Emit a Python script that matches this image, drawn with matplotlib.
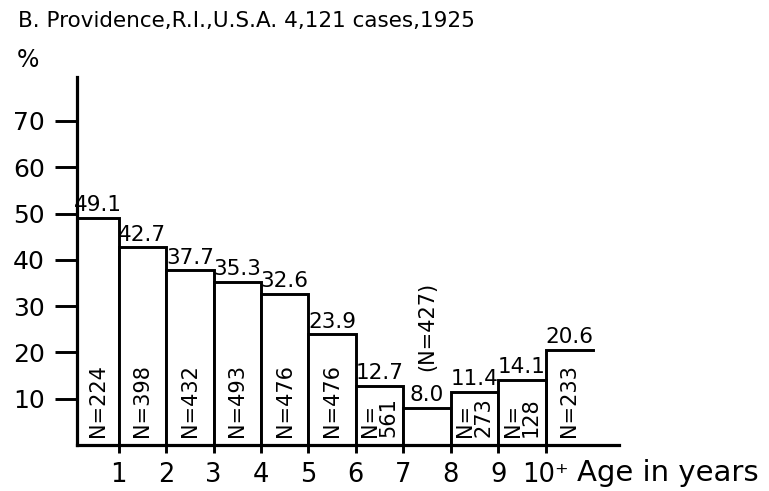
import matplotlib
matplotlib.use("Agg")
import matplotlib.pyplot as plt

# ---- data ----
age_edges = [0, 1, 2, 3, 4, 5, 6, 7, 8, 9, 10, 11]
percent = [49.1, 42.7, 37.7, 35.3, 32.6, 23.9, 12.7, 8.0, 11.4, 14.1, 20.6]
value_labels = ["49.1", "42.7", "37.7", "35.3", "32.6", "23.9", "12.7", "8.0", "11.4", "14.1", "20.6"]
n_labels = ["N=224", "N=398", "N=432", "N=493", "N=476", "N=476", "N=\n561", None, "N=\n273", "N=\n128", "N=233"]
above_labels = {7: "(N=427)"}
x_ticks = [1, 2, 3, 4, 5, 6, 7, 8, 9, 10]
x_ticklabels = ["1", "2", "3", "4", "5", "6", "7", "8", "9", "10\u207a"]
y_ticks = [10, 20, 30, 40, 50, 60, 70]
title = "B. Providence,R.I.,U.S.A. 4,121 cases,1925"

plt.rcParams['font.family'] = ['DejaVu Sans']

W, H = 769, 491
fig = plt.figure(figsize=(W / 100, H / 100), dpi=100)
ax = fig.add_axes([77 / W, 1 - 445 / H, (619 - 77) / W, (445 - 77) / H])
x_left = 0.12
ax.set_xlim(x_left, 11.55)
ax.set_ylim(0, 79.5)

lw = 2.1
n_full = len(percent) - 1
lefts = age_edges[:n_full]
widths = [age_edges[i + 1] - age_edges[i] for i in range(n_full)]
ax.bar(lefts, percent[:n_full], width=widths, align='edge',
       facecolor='white', edgecolor='black', linewidth=lw, zorder=2)
# open last class (10+): left edge and top only
x10, x11, v10 = age_edges[-2], age_edges[-1], percent[-1]
ax.plot([x10, x10, x11], [0, v10, v10], color='black', linewidth=lw,
        solid_joinstyle='miter', zorder=2)

for i, v in enumerate(percent):
    lo = max(age_edges[i], x_left)
    cx = (lo + age_edges[i + 1]) / 2
    ax.text(cx, v + 0.6, value_labels[i], ha='center', va='bottom',
            fontsize=15.5)
    if n_labels[i]:
        ax.text(cx, 1.8, n_labels[i], rotation=90, ha='center', va='bottom',
                multialignment='left', fontsize=15, linespacing=0.9)
    if i in above_labels:
        ax.text(cx, v + 8.0, above_labels[i], rotation=90, ha='center',
                va='bottom', fontsize=15)

for s in ['top', 'right']:
    ax.spines[s].set_visible(False)
for s in ['left', 'bottom']:
    ax.spines[s].set_linewidth(2.3)

ax.set_yticks(y_ticks)
ax.set_yticklabels([str(t) for t in y_ticks])
ax.tick_params(axis='y', direction='out', length=16, width=2.1, pad=7,
               labelsize=18)
ax.set_xticks(x_ticks)
ax.set_xticklabels(x_ticklabels)
ax.tick_params(axis='x', direction='out', length=6, width=2.1, pad=6.5,
               labelsize=18.5)

fig.text(18 / W, 1 - 21 / H, title, ha='left', va='center', fontsize=15.5)
fig.text(17 / W, 1 - 60 / H, "%", ha='left', va='center', fontsize=17)
fig.text(577 / W, 1 - 481 / H, "Age in years", ha='left', va='baseline',
         fontsize=21)

fig.savefig("out.png", dpi=100)
